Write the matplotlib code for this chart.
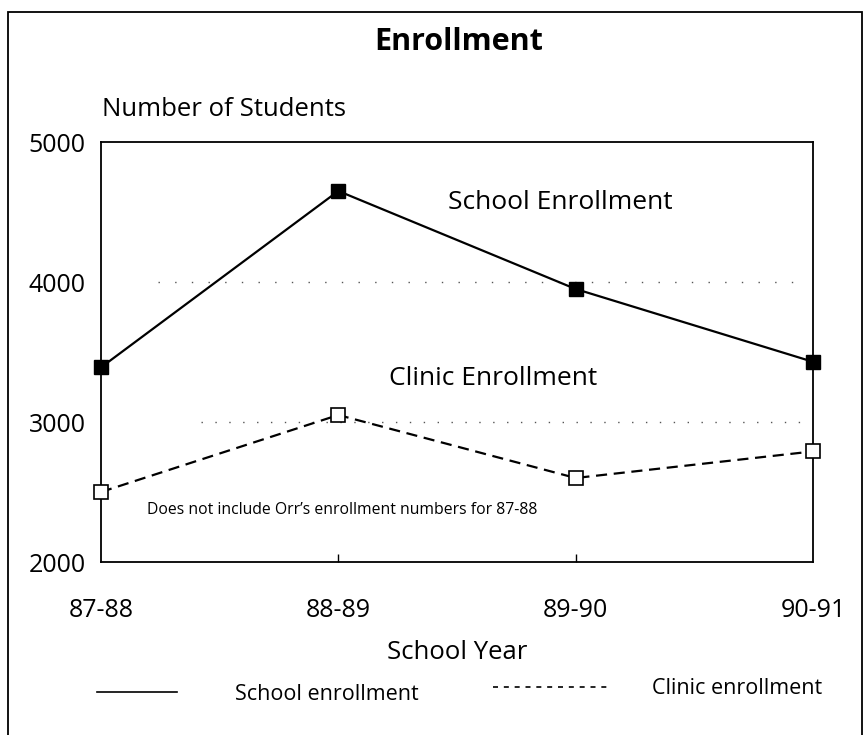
import matplotlib
matplotlib.use("Agg")
import matplotlib.pyplot as plt
from matplotlib.lines import Line2D
from matplotlib.patches import Rectangle

plt.rcParams['font.family'] = ['Open Sans', 'DejaVu Sans']

years = ['87-88', '88-89', '89-90', '90-91']
school = [3390, 4650, 3950, 3430]
clinic = [2500, 3050, 2600, 2790]
yticks = [2000, 3000, 4000, 5000]

fig = plt.figure(figsize=(8.66, 7.35), dpi=100)
ax = fig.add_axes([101 / 866, 1 - 562 / 735, 712 / 866, 420 / 735])

x = list(range(len(years)))

# sparse dotted reference lines
ax.axhline(4000, xmin=0.08, xmax=0.99, color='#555555', lw=1.0,
           linestyle=(0, (1, 11)), zorder=1)
ax.axhline(3000, xmin=0.14, xmax=0.99, color='#555555', lw=1.0,
           linestyle=(0, (1, 9)), zorder=1)

ax.plot(x, school, color='black', lw=1.6, marker='s', markersize=10,
        markerfacecolor='black', markeredgecolor='black', clip_on=False, zorder=3)
ax.plot(x, clinic, color='black', lw=1.6, linestyle=(0, (5, 3)), marker='s',
        markersize=10, markerfacecolor='white', markeredgecolor='black',
        markeredgewidth=1.2, clip_on=False, zorder=3)

ax.set_xlim(0, 3)
ax.set_ylim(2000, 5000)
ax.set_yticks(yticks)
ax.set_yticklabels([str(v) for v in yticks], fontsize=18)
ax.set_xticks(x)
ax.set_xticklabels(years, fontsize=18)
ax.tick_params(axis='y', length=0, pad=11)
ax.tick_params(axis='x', direction='in', length=6, width=1, pad=26)
# only the inner year ticks show a mark
xt = ax.xaxis.get_major_ticks()
for t in (xt[0], xt[-1]):
    t.tick1line.set_visible(False)
for s in ax.spines.values():
    s.set_linewidth(1.3)

ax.set_xlabel('School Year', fontsize=18.5, labelpad=12)

ax.text(1.934, 4571, 'School Enrollment', fontsize=19, ha='center', va='center')
ax.text(1.652, 3314, 'Clinic Enrollment', fontsize=19, ha='center', va='center')
ax.text(0.194, 2371, "Does not include Orr\u2019s enrollment numbers for 87-88",
        fontsize=11.3, ha='left', va='center')

fig.text(459 / 866, 1 - 42 / 735, 'Enrollment', fontsize=22, fontweight='bold',
         ha='center', va='center')
fig.text(102 / 866, 1 - 110 / 735, 'Number of Students', fontsize=18.5,
         ha='left', va='center')

# legend, one entry each so the key lengths can differ
leg1 = fig.legend([Line2D([], [], color='black', lw=1.2)], ['School enrollment'],
                  loc='center left', bbox_to_anchor=(97 / 866, 1 - 694 / 735),
                  frameon=False, fontsize=15.5, handlelength=3.7,
                  handletextpad=2.7, borderpad=0, borderaxespad=0)
leg2 = fig.legend([Line2D([], [], color='black', lw=1.2, linestyle=(0, (3, 3.5)))],
                  ['Clinic enrollment'],
                  loc='center left', bbox_to_anchor=(493 / 866, 1 - 689 / 735),
                  frameon=False, fontsize=15.5, handlelength=5.4,
                  handletextpad=2.0, borderpad=0, borderaxespad=0)

# outer frame
fig.patches.append(Rectangle((8 / 866, -0.02), 854 / 866, 1 - 12 / 735 + 0.02,
                             transform=fig.transFigure, fill=False,
                             edgecolor='black', lw=1.3))

fig.savefig('out.png', dpi=100)
